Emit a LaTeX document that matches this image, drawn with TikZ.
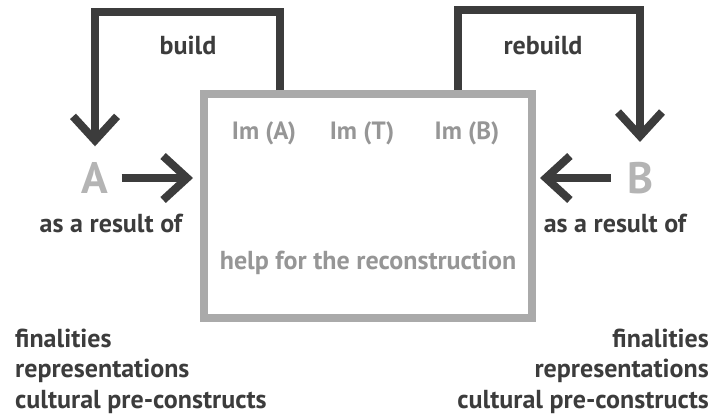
\documentclass[tikz,border=0pt]{standalone}
\usepackage{fontspec}
\setmainfont{PT Sans}
\usetikzlibrary{arrows.meta}

\definecolor{darkline}{RGB}{60,60,60}
\definecolor{boxline}{RGB}{170,170,170}
\definecolor{lettergray}{RGB}{180,180,180}
\definecolor{imgray}{RGB}{150,150,150}

\begin{document}
\begin{tikzpicture}[x=1pt,y=1pt,yscale=-1,xscale=1,
  flow/.style={draw=darkline, line width=8pt, -{Straight Barb[length=24pt,width=44pt]}},
  lbl/.style={inner sep=0pt, text=darkline, font=\bfseries\fontsize{26}{30}\selectfont},
  imlbl/.style={inner sep=0pt, text=imgray, font=\bfseries\fontsize{25}{29}\selectfont},
  bigletter/.style={inner sep=0pt, text=lettergray, font=\bfseries\fontsize{44}{48}\selectfont}]
\useasboundingbox (0,0) rectangle (713,418);

%Shape: Rectangle
\node (box) at (368,206) [draw=boxline, line width=8pt, minimum width=328pt, minimum height=224pt, inner sep=0pt] {};

% Letters
\node (A) at (95,178) [bigletter] {A};
\node (B) at (640,178) [bigletter] {B};

%Straight Lines (build)
\draw [flow, shorten >=16pt] ([xshift=80pt]box.north west) -- ++(0,-78) -| (A.north);
%Straight Lines (rebuild)
\draw [flow, shorten >=20pt] ([xshift=-78pt]box.north east) -- ++(0,-80) -| (B.north);
%Straight Lines (A into box)
\draw [flow, shorten <=13pt, shorten >=7pt] (A.east) -- (A.east -| box.west);
%Straight Lines (B into box)
\draw [flow, shorten <=16pt, shorten >=4pt] (B.west) -- (B.west -| box.east);

% Text Node
\node (buildlbl) at (188,45) [lbl] {build};
% Text Node
\node (rebuildlbl) at (543,45) [lbl] {rebuild};
% Text Node
\node (resultA) at (111,223) [lbl] {as a result of};
% Text Node
\node (resultB) at (615,223) [lbl] {as a result of};
% Text Node
\node (imA) at (264,133) [imlbl] {Im (A)};
% Text Node
\node (imT) at (362,133) [imlbl] {Im (T)};
% Text Node
\node (imB) at (467,133) [imlbl] {Im (B)};
% Text Node
\node (help) at (368,263) [imlbl, font=\bfseries\fontsize{26}{30}\selectfont] {help for the reconstruction};

% Text Node
\node (finA) at (15,347) [lbl, anchor=base west] {finalities};
\node (repA) at (15,377) [lbl, anchor=base west] {representations};
\node (culA) at (15,408) [lbl, anchor=base west] {cultural pre-constructs};
% Text Node
\node (finB) at (709,347) [lbl, anchor=base east] {finalities};
\node (repB) at (709,377) [lbl, anchor=base east] {representations};
\node (culB) at (709,408) [lbl, anchor=base east] {cultural pre-constructs};

\end{tikzpicture}
\end{document}
